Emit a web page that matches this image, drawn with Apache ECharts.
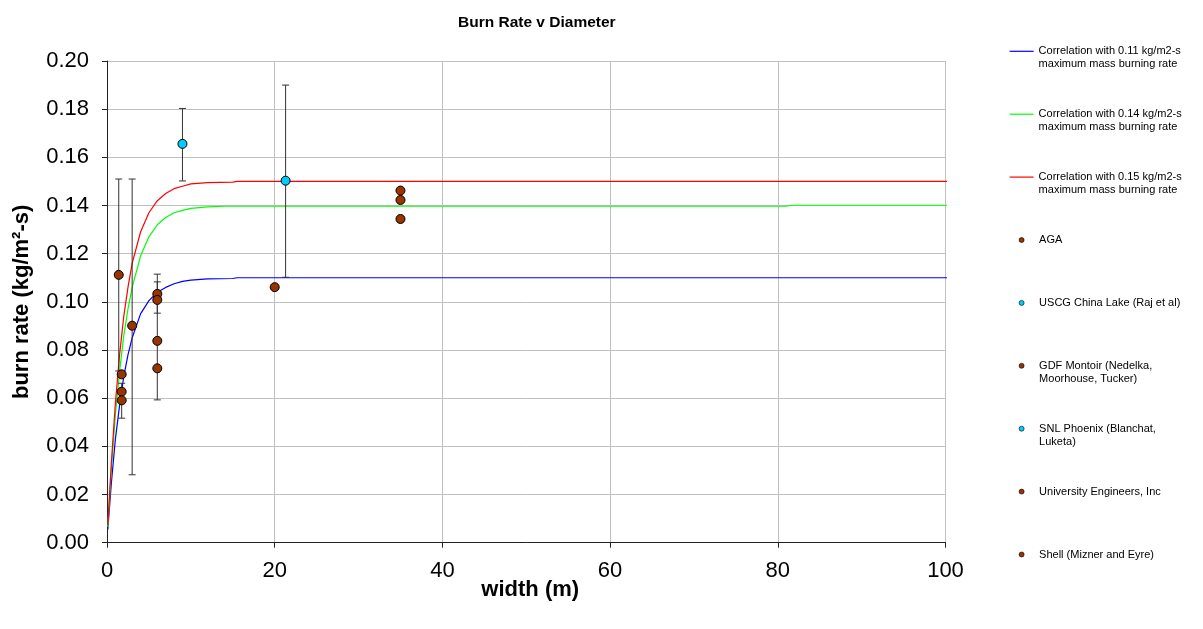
<!DOCTYPE html>
<html><head><meta charset="utf-8">
<script src="https://cdn.jsdelivr.net/npm/echarts@6/dist/echarts.min.js"></script>
<style>html,body{margin:0;padding:0;background:#fff}#c{width:1203px;height:629px}</style>
</head><body><div id="c"></div>
<script>
const FONT = "'Liberation Sans', Arial, Helvetica, sans-serif";

// Correlation curves
const blueX  = [0.1,0.5,1,1.5,2,2.5,3,4,5,6,7,8,9,10,12,15,15.5,101];
const blueY  = [0.0055,0.024,0.043,0.057,0.069,0.078,0.085,0.095,0.1005,0.104,0.106,0.1075,0.1085,0.109,0.1095,0.1097,0.110,0.110];
const greenX = [0.1,0.5,1,1.5,2,2.5,3,4,5,6,7,8,9,10,12,14,81,81.5,101];
const greenY = [0.0065,0.030,0.053,0.071,0.086,0.097,0.106,0.119,0.127,0.132,0.135,0.137,0.138,0.1388,0.1394,0.1397,0.1397,0.1401,0.1401];
const redX   = [0.1,0.5,1,1.5,2,2.5,3,4,5,6,7,8,9,10,12,15,15.5,101];
const redY   = [0.0075,0.032,0.058,0.078,0.094,0.106,0.116,0.129,0.137,0.142,0.145,0.147,0.148,0.149,0.1495,0.1497,0.150,0.150];

// Measured points [width, burn rate]
const aga   = [[1.75,0.0699],[1.75,0.0627],[1.75,0.0591],[6.0,0.1033],[6.0,0.1008],[6.0,0.0838],[6.0,0.0724],[20.0,0.1061]];
const uscg  = [[9.0,0.1656]];
const gdf   = [[35.0,0.1462],[35.0,0.1423],[35.0,0.1344]];
const snl   = [[21.3,0.1503]];
const univ  = [[1.40,0.1112]];
const shell = [[3.0,0.0901]];

// Error bars [width, low, high]
const errorBars = [[1.40,0.0713,0.1510],[3.0,0.0282,0.1510],[1.75,0.0517,0.0662],[6.0,0.0953,0.1115],[6.0,0.0593,0.1083],[9.0,0.1502,0.1803],[21.3,0.1102,0.1900]];

const xTickInterval = 20;
const yTickInterval = 0.02;

const names = [
  'Correlation with 0.11 kg/m2-s\nmaximum mass burning rate',
  'Correlation with 0.14 kg/m2-s\nmaximum mass burning rate',
  'Correlation with 0.15 kg/m2-s\nmaximum mass burning rate',
  'AGA',
  'USCG China Lake (Raj et al)',
  'GDF Montoir (Nedelka,\nMoorhouse, Tucker)',
  'SNL Phoenix (Blanchat,\nLuketa)',
  'University Engineers, Inc',
  'Shell (Mizner and Eyre)'
];
const lineColors = ['#0000FF', '#00FF00', '#FF0000'];
const BROWN = '#993300', CYAN = '#00CCFF';

const zip = (xs, ys) => xs.map((x, i) => [x, ys[i]]);

function lineSeries(name, xs, ys, color) {
  return { name, type: 'line', data: zip(xs, ys), symbol: 'none', showSymbol: false,
    clip: false, lineStyle: { color, width: 1.2 }, itemStyle: { color }, z: 2, animation: false };
}
function scatterSeries(name, data, color) {
  return { name, type: 'scatter', data, symbol: 'circle', symbolSize: 9,
    itemStyle: { color, borderColor: '#000', borderWidth: 1, opacity: 1 }, z: 4, animation: false };
}

const legends = names.map((n, i) => {
  const isLine = i < 3;
  const twoLine = n.indexOf('\n') >= 0;
  const iconY = 51.3 + 62.9 * i;
  const H = twoLine ? 39 : 13;
  const base = {
    show: true, orient: 'vertical', top: iconY - H / 2,
    padding: 0, itemGap: 0, selectedMode: false,
    formatter: nm => (nm.indexOf('\n') >= 0 ? ' \n' + nm : nm),
    textStyle: { fontFamily: FONT, fontSize: 11, lineHeight: 13, color: '#000' }
  };
  if (isLine) {
    return Object.assign(base, {
      left: 1009, itemWidth: 24, itemHeight: 10,
      data: [n],
      itemStyle: { color: 'rgba(0,0,0,0)', borderColor: 'rgba(0,0,0,0)', borderWidth: 0, opacity: 0 },
      lineStyle: { color: lineColors[i], width: 1.2, opacity: 1 }
    });
  }
  return Object.assign(base, {
    left: 1018.8, itemWidth: 25, itemHeight: 5,
    data: [n],
    itemStyle: { borderWidth: 0.6, borderColor: '#000' }
  });
});

const chart = echarts.init(document.getElementById('c'), null, { renderer: 'canvas' });
chart.setOption({
  backgroundColor: '#fff',
  animation: false,
  title: { text: 'Burn Rate v Diameter', left: 453, top: 10,
    textStyle: { fontFamily: FONT, fontSize: 15.5, fontWeight: 'bold', color: '#000' } },
  legend: legends,
  grid: { left: 107, top: 61, right: 257.5, bottom: 86.3, containLabel: false },
  xAxis: {
    type: 'value', min: 0, max: 100, interval: xTickInterval,
    name: 'width (m)', nameLocation: 'middle', nameGap: 36, nameMoveOverlap: false,
    nameTextStyle: { fontFamily: FONT, fontSize: 22, fontWeight: 'bold', color: '#000', padding: [0, 0, 0, 8] },
    axisLine: { show: true, onZero: false, lineStyle: { color: '#222', width: 1 } },
    axisTick: { show: true, inside: false, length: 5, lineStyle: { color: '#222' } },
    axisLabel: { fontFamily: FONT, fontSize: 22, color: '#000', margin: 17 },
    splitLine: { show: true, lineStyle: { color: '#c0c0c0', width: 1 } }
  },
  yAxis: {
    type: 'value', min: 0, max: 0.2, interval: yTickInterval,
    name: 'burn rate (kg/m²-s)', nameLocation: 'middle', nameGap: 74, nameMoveOverlap: false,
    nameTextStyle: { fontFamily: FONT, fontSize: 22, fontWeight: 'bold', color: '#000' },
    axisLine: { show: true, lineStyle: { color: '#222', width: 1 } },
    axisTick: { show: true, inside: false, length: 5, lineStyle: { color: '#222' } },
    axisLabel: { fontFamily: FONT, fontSize: 22, color: '#000', margin: 18,
      formatter: v => v.toFixed(2) },
    splitLine: { show: true, lineStyle: { color: '#c0c0c0', width: 1 } }
  },
  series: [
    lineSeries(names[0], blueX, blueY, lineColors[0]),
    lineSeries(names[1], greenX, greenY, lineColors[1]),
    lineSeries(names[2], redX, redY, lineColors[2]),
    {
      name: 'errorbars', type: 'custom', data: errorBars, z: 3, animation: false,
      encode: { x: 0, y: [1, 2] },
      renderItem: (params, api) => {
        const x = api.value(0), lo = api.value(1), hi = api.value(2);
        const p1 = api.coord([x, lo]), p2 = api.coord([x, hi]);
        const w = 3.5, st = { stroke: '#333', lineWidth: 1 };
        return { type: 'group', children: [
          { type: 'line', shape: { x1: p1[0], y1: p1[1], x2: p2[0], y2: p2[1] }, style: st },
          { type: 'line', shape: { x1: p1[0] - w, y1: p1[1], x2: p1[0] + w, y2: p1[1] }, style: st },
          { type: 'line', shape: { x1: p2[0] - w, y1: p2[1], x2: p2[0] + w, y2: p2[1] }, style: st }
        ] };
      }
    },
    scatterSeries(names[3], aga, BROWN),
    scatterSeries(names[4], uscg, CYAN),
    scatterSeries(names[5], gdf, BROWN),
    scatterSeries(names[6], snl, CYAN),
    scatterSeries(names[7], univ, BROWN),
    scatterSeries(names[8], shell, BROWN)
  ]
});
</script>
</body></html>
